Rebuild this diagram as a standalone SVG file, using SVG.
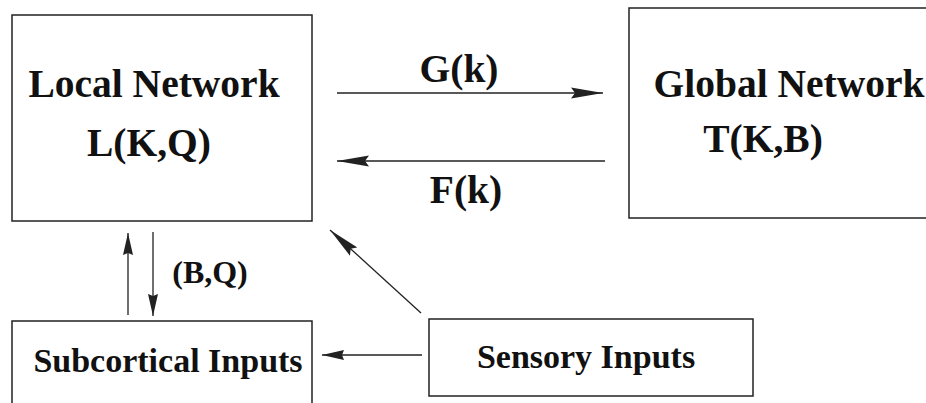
<svg xmlns="http://www.w3.org/2000/svg" width="926" height="403" viewBox="0 0 926 403">
<defs>
<style>
.box{fill:#fff;stroke:#222;stroke-width:1.5}
.big{font-size:39.5px}
.mid{font-size:34px}
.sm{font-size:32px}
.c{stroke:#222;stroke-width:1.3;fill:none}
</style>
<marker id="ah" viewBox="0 0 32 12" refX="32" refY="6" markerWidth="32" markerHeight="12" markerUnits="userSpaceOnUse" orient="auto">
<path d="M0,0.5 L32,6 L0,11.5 L4,6 Z" fill="#222"/>
</marker>
<marker id="ahs" viewBox="0 0 22 10" refX="22" refY="5" markerWidth="22" markerHeight="10" markerUnits="userSpaceOnUse" orient="auto">
<path d="M0,0 L22,5 L0,10 L2,5 Z" fill="#222"/>
</marker>
</defs>
<rect width="926" height="403" fill="#fff"/>
<g font-family="Liberation Serif" font-weight="bold" fill="#111" text-anchor="middle">
<g id="local">
<rect class="box" x="12" y="15" width="300" height="206"/>
<text class="big" x="154" y="97">Local Network</text>
<text class="big" x="149" y="156">L(K,Q)</text>
</g>
<g id="global">
<rect class="box" x="629" y="8" width="310" height="210"/>
<text class="big" x="789" y="97">Global Network</text>
<text class="big" x="763" y="152">T(K,B)</text>
</g>
<g id="subcortical">
<rect class="box" x="12" y="321" width="300" height="100"/>
<text class="mid" x="168" y="372">Subcortical Inputs</text>
</g>
<g id="sensory">
<rect class="box" x="429" y="319" width="324" height="77"/>
<text class="mid" x="586" y="368">Sensory Inputs</text>
</g>
<g id="connectors">
<line class="c" x1="337" y1="93" x2="603" y2="93" marker-end="url(#ah)"/>
<text class="big" x="459" y="82">G(k)</text>
<line class="c" x1="605" y1="161" x2="337" y2="161" marker-end="url(#ah)"/>
<text class="big" x="466" y="203">F(k)</text>
<line class="c" x1="128" y1="315" x2="128" y2="233" marker-end="url(#ahs)"/>
<line class="c" x1="153" y1="232" x2="153" y2="316" marker-end="url(#ahs)"/>
<text class="sm" x="210" y="283">(B,Q)</text>
<line class="c" x1="421" y1="313" x2="330" y2="230" marker-end="url(#ah)"/>
<line class="c" x1="422" y1="355" x2="322" y2="355" marker-end="url(#ahs)"/>
</g>
</g>
</svg>
